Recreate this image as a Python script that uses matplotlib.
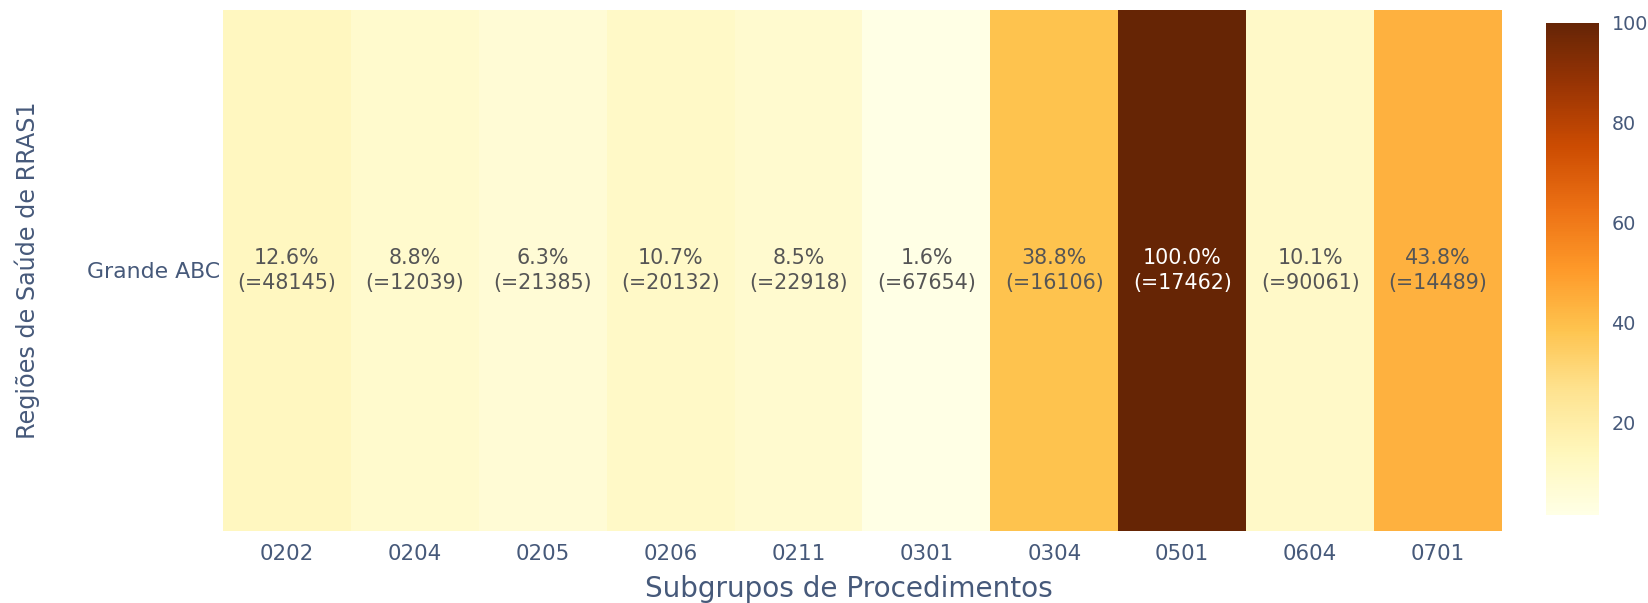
import matplotlib
matplotlib.use("Agg")
import matplotlib.pyplot as plt
import numpy as np

plt.rcParams['font.family'] = ['DejaVu Sans']

categories = ["0202", "0204", "0205", "0206", "0211", "0301", "0304", "0501", "0604", "0701"]
regions = ["Grande ABC"]
percent = [12.6, 8.8, 6.3, 10.7, 8.5, 1.6, 38.8, 100.0, 10.1, 43.8]
counts = [48145, 12039, 21385, 20132, 22918, 67654, 16106, 17462, 90061, 14489]

W, H = 1649, 603
fig = plt.figure(figsize=(W / 100, H / 100), dpi=100)
fig.patch.set_facecolor('white')

axc = '#46597a'

ax = fig.add_axes([223 / W, 1 - 531 / H, (1502 - 223) / W, (531 - 10) / H])
data = np.array([percent])
vmin, vmax = min(percent), max(percent)
im = ax.imshow(data, cmap='YlOrBr', vmin=vmin, vmax=vmax, aspect='auto',
               interpolation='nearest')

for i, (p, c) in enumerate(zip(percent, counts)):
    frac = (p - vmin) / (vmax - vmin)
    col = 'white' if frac > 0.6 else '#555555'
    ax.text(i, 0, f"{p:.1f}%\n(={c})", ha='center', va='center', fontsize=14.9,
            color=col, linespacing=1.3)

ax.set_xticks(range(len(categories)))
ax.set_xticklabels(categories, fontsize=15.4, color=axc)
ax.set_yticks(range(len(regions)))
ax.set_yticklabels(regions, fontsize=15.8, color=axc)
ax.tick_params(length=0, pad=9)
ax.tick_params(axis='y', pad=2)
for s in ax.spines.values():
    s.set_visible(False)

fig.text(849 / W, 1 - 597 / H, "Subgrupos de Procedimentos",
         ha='center', va='baseline', fontsize=20.1, color=axc)
fig.text(27 / W, 1 - 270 / H, "Regiões de Saúde de RRAS1", ha='center', va='center',
         rotation=90, fontsize=17.2, color=axc)

cax = fig.add_axes([1546 / W, 1 - 515 / H, (1599 - 1546) / W, (515 - 23) / H])
cb = fig.colorbar(im, cax=cax)
cb.outline.set_visible(False)
cb.set_ticks([20, 40, 60, 80, 100])
cax.tick_params(length=0, labelsize=13.8, labelcolor=axc, pad=9)

fig.savefig("out.png", dpi=100, facecolor='white')
